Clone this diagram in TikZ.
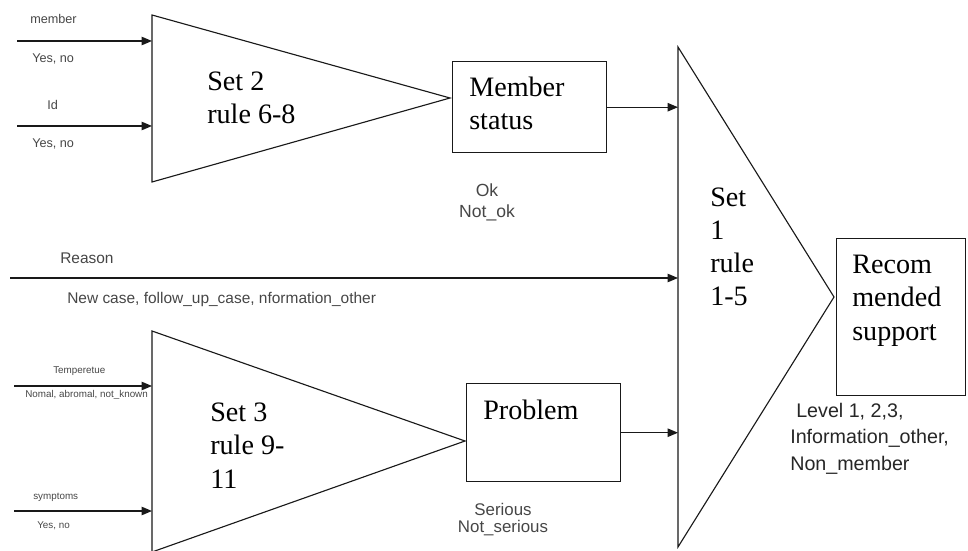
\documentclass[tikz,border=0pt]{standalone}
\usepackage{fontspec}
\setmainfont{Liberation Serif}
\newfontfamily\arialfont{Liberation Sans}
\usetikzlibrary{arrows.meta,positioning}
\definecolor{ink}{RGB}{25,25,25}
\definecolor{grey}{RGB}{70,70,70}
\newcommand\rulefont{\fontsize{20}{23.5}\selectfont}
\tikzset{
  >={Triangle[length=2.6mm,width=2.1mm]},
  flow/.style={->,line width=0.9pt,draw=#1},
  flow/.default=ink,
  wedge/.style={draw=ink,line width=0.8pt,line join=miter},
  outbox/.style={draw=ink,line width=1pt,anchor=north west,inner sep=0pt},
  rule text/.style={anchor=base west,align=left,inner sep=0pt,font=\rulefont,text=black},
  tag/.style={anchor=base west,inner sep=0pt,font=\arialfont\fontsize{9}{10}\selectfont,text=grey},
  tiny tag/.style={tag,font=\arialfont\fontsize{7}{8}\selectfont},
  value/.style={anchor=base,align=center,inner sep=0pt,text=grey,
    font=\arialfont\fontsize{#1}{#1}\selectfont},
  value/.default=12,
}

\begin{document}
\begin{tikzpicture}[x=0.025cm,y=-0.025cm]
  \useasboundingbox (0,0) rectangle (968,551);
  % the three rule sets
  \coordinate (s2top) at (152,15);
  \coordinate (s2tip) at (450,98);
  \coordinate (s2bot) at (152,182);
  \coordinate (s3top) at (152,331);
  \coordinate (s3tip) at (465,441);
  \coordinate (s3bot) at (152,552);
  \coordinate (s1top) at (678,47);
  \coordinate (s1tip) at (834,297);
  \coordinate (s1bot) at (678,547);
  \draw[wedge] (s2top) -- (s2tip) -- (s2bot) -- cycle;
  \draw[wedge] (s3top) -- (s3tip) -- (s3bot) -- cycle;
  \draw[wedge] (s1top) -- (s1tip) -- (s1bot) -- cycle;
  % base of a node is its last line
  \node[rule text] (s2txt) at (207,124) {Set 2\\rule 6-8};
  \node[rule text] (s3txt) at (210,488) {Set 3\\rule 9-\\11};
  \node[rule text] (s1txt) at (710,306) {Set\\1\\rule\\1-5};

  % outputs
  \node[outbox,minimum width=3.85cm,minimum height=2.275cm] (member) at (452,61) {};
  \node[rule text] (membertxt) at (469,130) {Member\\status};
  \node[outbox,minimum width=3.85cm,minimum height=2.45cm] (problem) at (466,383) {};
  \node[rule text] (problemtxt) at (483,419) {Problem};
  \node[outbox,minimum width=3.225cm,minimum height=3.925cm] (support) at (836,238) {};
  \node[rule text] (supporttxt) at (852,340) {Recom\\mended\\support};

  % inputs
  \coordinate (memberin) at (17,41);
  \coordinate (idin) at (17,126);
  \coordinate (reasonin) at (10,278);
  \coordinate (tempin) at (14,386);
  \coordinate (sympin) at (14,511);
  \draw[flow] (memberin) -- (memberin -| s2top);
  \draw[flow] (idin) -- (idin -| s2top);
  \draw[flow] (reasonin) -- (reasonin -| s1top);
  \draw[flow] (tempin) -- (tempin -| s3top);
  \draw[flow] (sympin) -- (sympin -| s3top);
  \draw[flow] (member.east) -- (member.east -| s1top);
  \draw[flow] (problem.east) -- (problem.east -| s1top);

  % labels
  \node[tag] (membertag) at (30,24) {member};
  \node[tag] (memberval) at (32,63) {Yes, no};
  \node[tag] (idtag) at (47,110) {Id};
  \node[tag] (idval) at (32,148) {Yes, no};
  \node[tag,font=\arialfont\fontsize{11}{12}\selectfont] (reasontag) at (60,264) {Reason};
  \node[tag,font=\arialfont\fontsize{11}{12}\selectfont] (reasonval) at (67,304) {New case, follow\_up\_case, nformation\_other};
  \node[tiny tag] (temptag) at (53,373) {Temperetue};
  \node[tiny tag] (tempval) at (25,397) {Nomal, abromal, not\_known};
  \node[tiny tag] (symptag) at (33,499) {symptoms};
  \node[tiny tag] (sympval) at (37,528) {Yes, no};
  \node[value=12.5,font=\arialfont\fontsize{12.5}{15}\selectfont] (memberout) at (487,218) {Ok\\Not\_ok};
  \node[value=12] (problemout) at (503,532) {Serious\\Not\_serious};
  \node[tag,align=left,text=black!85,font=\arialfont\fontsize{14}{18.5}\selectfont] (supportout) at (790,470) {\hspace*{1.5mm}Level 1, 2,3,\\Information\_other,\\Non\_member};
\end{tikzpicture}
\end{document}
